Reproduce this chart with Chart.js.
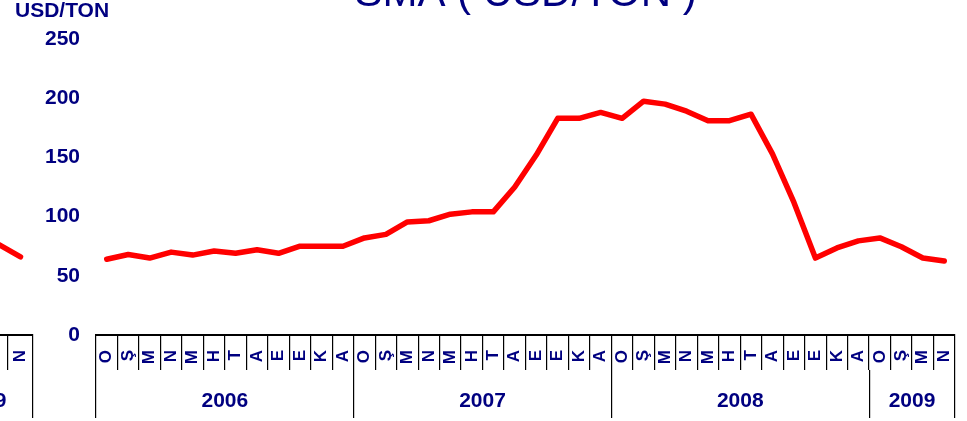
<!DOCTYPE html>
<html>
<head>
<meta charset="utf-8">
<script src="https://cdn.jsdelivr.net/npm/chart.js@4.4.1/dist/chart.umd.min.js"></script>
<style>
html,body{margin:0;padding:0;background:#fff;overflow:hidden;width:967px;height:421px;position:relative}
canvas{position:absolute;top:0}
#main{left:0}
#prev{left:-67px}
</style>
</head>
<body>
<canvas id="prev" width="102" height="421"></canvas>
<canvas id="main" width="967" height="421"></canvas>
<script>
// ---- data ----
const monthInitials = ['O','Ş','M','N','M','H','T','A','E','E','K','A'];
const years = ['2006','2007','2008','2009'];
const monthsPerYear = [12, 12, 12, 4];
const prices = [
  64, 68, 65, 70, 67.5, 71, 69, 72, 69, 75, 75, 75,
  82, 85, 95.5, 96.5, 102, 104, 104, 125, 152, 183, 183, 188,
  183, 197.5, 195, 189, 181, 181, 186.5, 153, 112, 65, 73.5, 79.5,
  82, 74.5, 65, 62.5
];
const yMin = 0, yMax = 250, yStep = 50;
const titleText = 'SMA ( USD/TON )';
const unitLabel = 'USD/TON';

// previous panel (cut off at the left edge)
const prevYears = ['2009'];
const prevMonthsPerYear = [4];
const prevPrices = [null, null, 78, 66];

// ---- helpers ----
const NAVY = '#000080';
const FONT = "'Liberation Sans', Arial, sans-serif";

function monthLabelsFor(mpy) {
  return mpy.flatMap(n => monthInitials.slice(0, n));
}
function yearGeometry(mpy, yrs) {
  const bounds = [-0.5];
  const centers = {};
  let start = 0;
  mpy.forEach((n, i) => {
    centers[start + n / 2 - 0.5] = yrs[i];
    start += n;
    bounds.push(start - 0.5);
  });
  return { bounds, centers, total: start };
}

function makeConfig(opts) {
  const labels = monthLabelsFor(opts.mpy);
  const geo = yearGeometry(opts.mpy, opts.years);
  const tickVals = [...geo.bounds, ...Object.keys(geo.centers).map(Number)].sort((a, b) => a - b);
  const isBound = v => geo.bounds.some(b => Math.abs(b - v) < 1e-6);
  return {
    type: 'line',
    data: {
      labels,
      datasets: [{
        data: opts.data,
        borderColor: '#ff0000',
        borderWidth: 5.5,
        pointRadius: 0,
        pointHoverRadius: 0,
        tension: 0,
        fill: false,
        borderCapStyle: 'round',
        borderJoinStyle: 'round',
        xAxisID: 'x',
        yAxisID: 'y'
      }]
    },
    options: {
      responsive: false,
      animation: false,
      devicePixelRatio: 1,
      layout: { padding: opts.padding },
      plugins: {
        legend: { display: false },
        tooltip: { enabled: false },
        title: opts.title ? {
          display: true,
          text: opts.title,
          fullSize: false,
          color: NAVY,
          font: { family: FONT, size: 42, weight: 'normal', lineHeight: 1.2 },
          padding: { top: -31.2, bottom: -19.2 }
        } : { display: false },
        subtitle: opts.subtitle ? {
          display: true,
          text: opts.subtitle,
          align: 'start',
          color: NAVY,
          font: { family: FONT, size: 21, weight: 'bold', lineHeight: 1.2 },
          padding: { top: -1, bottom: 14.8 }
        } : { display: false }
      },
      scales: {
        y: {
          display: opts.showY,
          min: yMin,
          max: yMax,
          grid: { display: false, drawTicks: false },
          border: { display: false },
          ticks: {
            stepSize: yStep,
            padding: 16,
            color: NAVY,
            font: { family: FONT, size: 21, weight: 'bold' }
          },
          afterFit: s => { s.width = opts.yWidth; }
        },
        x: {
          type: 'category',
          position: 'bottom',
          weight: 0,
          offset: true,
          grid: {
            offset: true,
            drawOnChartArea: false,
            drawTicks: true,
            tickLength: 35,
            color: '#000',
            lineWidth: 1.2
          },
          border: { display: true, color: '#000', width: 2 },
          ticks: {
            autoSkip: false,
            minRotation: 90,
            maxRotation: 90,
            padding: -20,
            color: NAVY,
            font: { family: FONT, size: 17, weight: 'bold' }
          },
          afterFit: s => { s.height = 35; }
        },
        yr: {
          type: 'linear',
          position: 'bottom',
          weight: 1,
          min: -0.5,
          max: geo.total - 0.5,
          grid: {
            drawOnChartArea: false,
            drawTicks: true,
            tickLength: 48,
            color: c => (c.tick && isBound(c.tick.value)) ? '#000' : 'rgba(0,0,0,0)',
            lineWidth: 1.2
          },
          border: { display: false },
          afterBuildTicks: s => { s.ticks = tickVals.map(v => ({ value: v })); },
          ticks: {
            autoSkip: false,
            maxRotation: 0,
            minRotation: 0,
            padding: -29.6,
            color: NAVY,
            font: { family: FONT, size: 21, weight: 'bold' },
            callback: v => geo.centers[v] !== undefined ? geo.centers[v] : ''
          },
          afterFit: s => { s.height = 51; }
        }
      }
    }
  };
}

new Chart(document.getElementById('prev'), makeConfig({
  mpy: prevMonthsPerYear, years: prevYears, data: prevPrices,
  showY: false, yWidth: 0,
  padding: { left: 0, right: 2, top: 39, bottom: 0 }
}));

new Chart(document.getElementById('main'), makeConfig({
  mpy: monthsPerYear, years: years, data: prices,
  showY: true, yWidth: 81,
  title: titleText, subtitle: unitLabel,
  padding: { left: 15, right: 12, top: 0, bottom: 0 }
}));
</script>
</body>
</html>
